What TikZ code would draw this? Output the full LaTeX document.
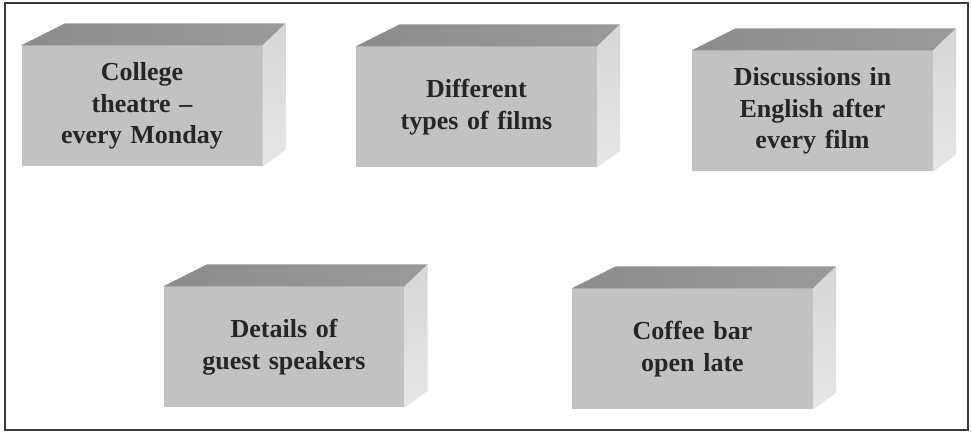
\documentclass[tikz,border=0pt]{standalone}
\usepackage{fontspec}
\setmainfont{Liberation Serif}
\usetikzlibrary{calc}
\definecolor{frontgray}{HTML}{C2C2C2}
\definecolor{topgray}{HTML}{8C8C8C}
\definecolor{topgraylight}{HTML}{9A9A9A}
\definecolor{sidegray}{HTML}{D6D6D6}
\definecolor{sidegraylight}{HTML}{E6E6E6}
\definecolor{inkgray}{HTML}{262626}
\definecolor{framegray}{HTML}{3A3A3A}
\tikzset{
  frontbox/.style={fill=frontgray, inner sep=0pt, minimum width=241pt, minimum height=121pt,
    text width=230pt, align=center, text=inkgray,
    font=\bfseries\fontsize{26}{31.5}\selectfont},
  topface/.style={left color=topgray, right color=topgraylight},
  sideface/.style={top color=sidegray, bottom color=sidegraylight},
  outerframe/.style={draw=framegray, line width=1.4pt}
}
\newcommand\cubefaces[1]{%
  \shade[topface] (#1.north west) -- ++(44,22) -- ($(#1.north east)+(23,22)$) -- (#1.north east) -- cycle;
  \shade[sideface] (#1.north east) -- ++(23,22) -- ($(#1.south east)+(23,17)$) -- (#1.south east) -- cycle;
}
\begin{document}
\begin{tikzpicture}[x=1pt,y=1pt]
\useasboundingbox (0,0) rectangle (972,433);
\fill[white] (0,0) rectangle (972,433);
\draw[outerframe] (5,3) rectangle (968,430);
\node[frontbox] (b1) at (142,327) {College\\theatre --\\every Monday};
\node[frontbox] (b2) at (476.5,326) {Different\\types of films};
\node[frontbox] (b3) at (812.5,322) {Discussions in\\English after\\every film};
\node[frontbox] (b4) at (284,86) {Details of\\guest speakers};
\node[frontbox] (b5) at (692.5,84) {Coffee bar\\open late};
\cubefaces{b1}
\cubefaces{b2}
\cubefaces{b3}
\cubefaces{b4}
\cubefaces{b5}
\end{tikzpicture}
\end{document}
